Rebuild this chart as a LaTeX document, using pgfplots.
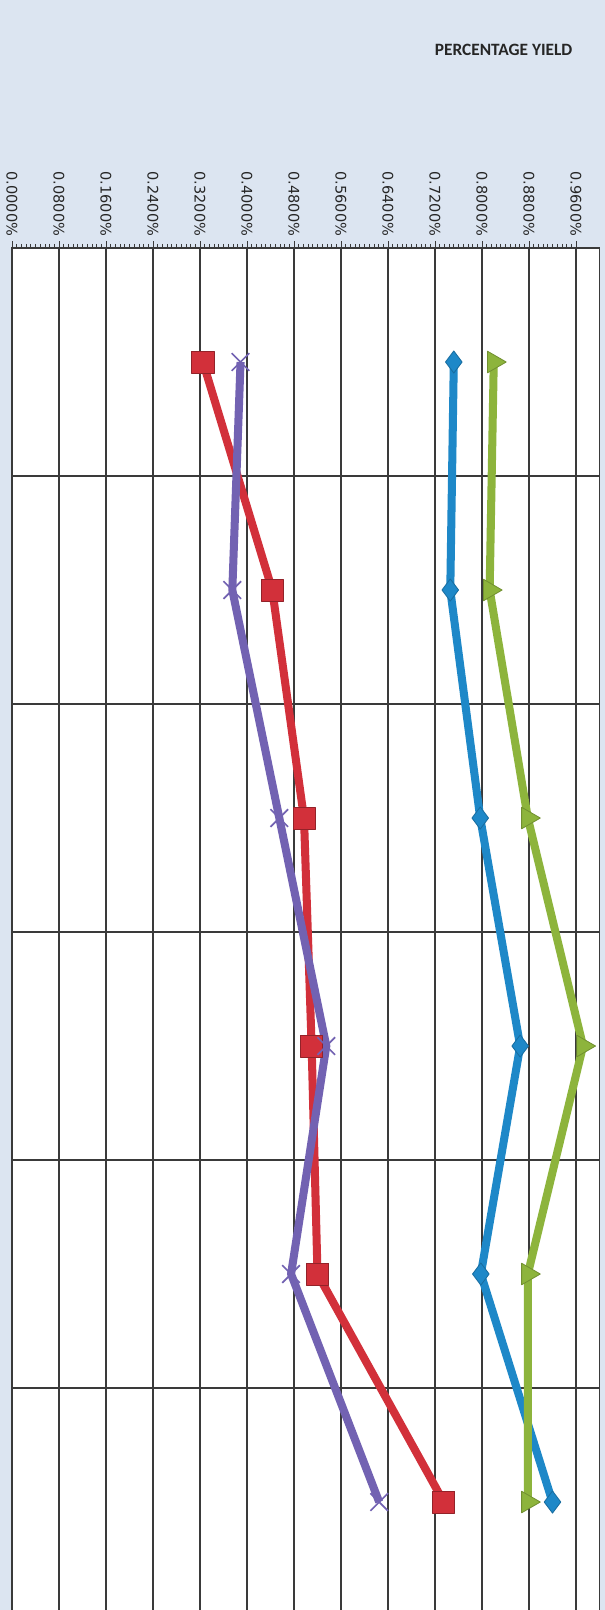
\documentclass[border=0pt]{standalone}
\usepackage{fontspec}
\setmainfont{DejaVu Sans}
\newfontfamily\titlefont{Carlito}
\usepackage{pgfplots}
\pgfplotsset{compat=1.18}
\definecolor{bgtex}{HTML}{DCE5F1}
\definecolor{serBlue}{HTML}{1E88C8}
\definecolor{serRed}{HTML}{D2303A}
\definecolor{serGreen}{HTML}{8DB43C}
\definecolor{serPurple}{HTML}{7262B2}
\definecolor{gridc}{HTML}{3A3A3A}

\begin{document}
\begin{tikzpicture}
% page = scanned sheet, 1 px = 0.0254 cm
\fill[bgtex] (0,0) rectangle (15.367,-40.894);
\useasboundingbox (0,0) rectangle (15.367,-40.894);
\node[anchor=east, font=\titlefont\bfseries\fontsize{12.5}{15}\selectfont, text=black!85]
  at (14.66,-1.27) {PERCENTAGE YIELD};

\begin{axis}[
  at={(0.3048cm,-6.2992cm)}, anchor=north west,
  width=14.9225cm, height=34.747cm, scale only axis,
  xmin=0, xmax=1.0, ymin=0.5, ymax=6.5, y dir=reverse,
  axis background/.style={fill=white},
  axis line style={gridc, line width=1pt},
  xtick={0,0.08,0.16,0.24,0.32,0.40,0.48,0.56,0.64,0.72,0.80,0.88,0.96},
  xticklabels={0.0000\%,0.0800\%,0.1600\%,0.2400\%,0.3200\%,0.4000\%,0.4800\%,
    0.5600\%,0.6400\%,0.7200\%,0.8000\%,0.8800\%,0.9600\%},
  xtick pos=right, xticklabel pos=right,
  minor x tick num=9,
  tick align=outside,
  major tick length=5pt, minor tick length=3pt,
  xtick style={gridc, line width=0.5pt},
  xticklabel style={rotate=-90, anchor=east, font=\fontsize{10.5}{12}\selectfont, text=black!85},
  ytick={1.5,2.5,3.5,4.5,5.5}, yticklabels={},
  ytick style={draw=none},
  xmajorgrids, ymajorgrids,
  major grid style={gridc, line width=0.9pt},
  clip=false,
]

% Series 1 (blue, diamonds)
\addplot[serBlue, line width=5.8pt, line join=round, mark=diamond*, mark size=8pt,
  mark options={solid, line width=0.6pt, fill=serBlue, draw=serBlue!80!black}] coordinates {
  (0.752,1) (0.746,2) (0.797,3) (0.865,4) (0.798,5) (0.920,6)
};

% Series 2 (red, squares)
\addplot[serRed, line width=5.8pt, line join=round, mark=square*, mark size=8pt,
  mark options={solid, line width=0.6pt, fill=serRed, draw=serRed!70!black}] coordinates {
  (0.325,1) (0.443,2) (0.497,3) (0.510,4) (0.520,5) (0.735,6)
};

% Series 3 (green, triangles)
\addplot[serGreen, line width=5.8pt, line join=round, mark=triangle*, mark size=9pt,
  mark options={solid, rotate=-90, line width=0.6pt, fill=serGreen, draw=serGreen!80!black}] coordinates {
  (0.820,1) (0.813,2) (0.878,3) (0.972,4) (0.878,5) (0.878,6)
};

% Series 4 (purple, crosses)
\addplot[serPurple, line width=5.8pt, line join=round, mark=x, mark size=9pt,
  mark options={solid, line width=1.2pt}] coordinates {
  (0.389,1) (0.375,2) (0.455,3) (0.535,4) (0.475,5) (0.625,6)
};

\end{axis}
\end{tikzpicture}
\end{document}
